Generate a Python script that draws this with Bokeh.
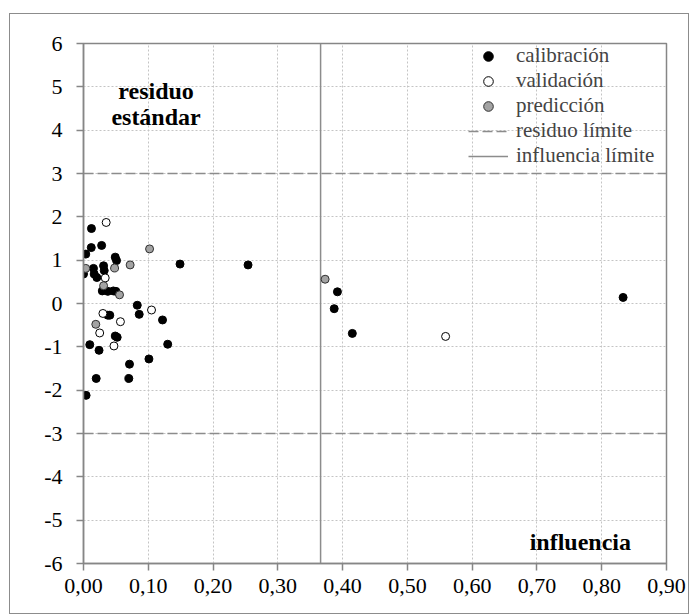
from bokeh.plotting import figure
from bokeh.models import (ColumnDataSource, Label, Legend, LegendItem,
                          FixedTicker, CustomJSTickFormatter)
from bokeh.embed import file_html
from bokeh.resources import INLINE

# Leverage (influencia) and standardized residual (residuo estándar) per set
calib_x = [0.000, 0.0035, 0.004, 0.0097, 0.012, 0.0123, 0.0154, 0.0165, 0.0196,
           0.0206, 0.024, 0.028, 0.029, 0.031, 0.032, 0.0375, 0.0375, 0.0406,
           0.046, 0.050, 0.049, 0.051, 0.049, 0.052, 0.070, 0.071, 0.083, 0.086,
           0.101, 0.122, 0.130, 0.149, 0.254, 0.387, 0.392, 0.415, 0.833]
calib_y = [0.68, 1.14, -2.12, -0.95, 1.29, 1.73, 0.81, 0.68, -1.73,
           0.60, -1.08, 1.34, 0.29, 0.87, 0.76, 0.28, -0.27, -0.27,
           0.29, 0.28, 1.07, 0.99, -0.75, -0.78, -1.73, -1.40, -0.04, -0.25,
           -1.28, -0.38, -0.94, 0.91, 0.89, -0.12, 0.27, -0.69, 0.14]

valid_x = [0.035, 0.0335, 0.030, 0.057, 0.025, 0.047, 0.105, 0.559]
valid_y = [1.87, 0.59, -0.23, -0.42, -0.68, -0.98, -0.15, -0.76]

pred_x = [0.0035, 0.031, 0.048, 0.0556, 0.072, 0.102, 0.019, 0.373]
pred_y = [0.81, 0.41, 0.82, 0.20, 0.89, 1.26, -0.48, 0.56]

residuo_limite = 3.0
influencia_limite = 0.366

x_ticks = [0.0, 0.1, 0.2, 0.3, 0.4, 0.5, 0.6, 0.7, 0.8, 0.9]
y_ticks = [-6, -5, -4, -3, -2, -1, 0, 1, 2, 3, 4, 5, 6]

SERIF = "Liberation Serif"
AXIS_GRAY = "#868686"
LIM_GRAY = "#8c8c8c"

x_lo, x_hi = x_ticks[0], x_ticks[-1]
y_lo, y_hi = y_ticks[0], y_ticks[-1]

p = figure(width=680, height=601, x_range=(x_lo, x_hi), y_range=(y_lo, y_hi),
           output_backend="svg", toolbar_location=None,
           min_border_left=73, min_border_right=24,
           min_border_top=29, min_border_bottom=52)
p.margin = (13, 0, 0, 9)
p.styles = {"border": "1px solid #8c8c8c"}
p.background_fill_color = "white"
p.border_fill_color = "white"
p.outline_line_color = AXIS_GRAY
p.outline_line_width = 1.5

# axes
for ax in (p.xaxis[0], p.yaxis[0]):
    ax.axis_line_color = AXIS_GRAY
    ax.axis_line_width = 1.5
    ax.major_tick_line_color = AXIS_GRAY
    ax.major_tick_line_width = 1.5
    ax.major_tick_in = 0
    ax.major_tick_out = 7
    ax.minor_tick_line_color = None
    ax.major_label_text_font = SERIF
    ax.major_label_text_font_size = "22px"
    ax.major_label_text_color = "black"

p.xaxis.ticker = FixedTicker(ticks=x_ticks)
p.yaxis.ticker = FixedTicker(ticks=y_ticks)
p.xaxis.formatter = CustomJSTickFormatter(code="return tick.toFixed(2).replace('.', ',');")
p.yaxis.formatter = CustomJSTickFormatter(code="return tick.toFixed(0);")
p.xaxis.major_label_standoff = 8
p.yaxis.major_label_standoff = 14

# dotted grid
p.xgrid.ticker = FixedTicker(ticks=x_ticks)
p.ygrid.ticker = FixedTicker(ticks=y_ticks)
for g in (p.xgrid[0], p.ygrid[0]):
    g.grid_line_color = "#c4c4c4"
    g.grid_line_dash = "2 2"
    g.grid_line_width = 1

# limit lines
r_res = p.line(x=[x_lo, x_hi], y=[residuo_limite, residuo_limite],
               line_color=LIM_GRAY, line_width=1.5, line_dash="10 4")
p.line(x=[x_lo, x_hi], y=[-residuo_limite, -residuo_limite],
       line_color=LIM_GRAY, line_width=1.5, line_dash="10 4")
r_inf = p.line(x=[influencia_limite, influencia_limite], y=[y_lo, y_hi],
               line_color=LIM_GRAY, line_width=1.5)

# point series
src_c = ColumnDataSource(dict(x=calib_x, y=calib_y))
src_v = ColumnDataSource(dict(x=valid_x, y=valid_y))
src_p = ColumnDataSource(dict(x=pred_x, y=pred_y))

r_c = p.scatter("x", "y", source=src_c, size=8, fill_color="black",
                line_color="black", line_width=1)
r_v = p.scatter("x", "y", source=src_v, size=8, fill_color="white",
                line_color="black", line_width=1)
r_p = p.scatter("x", "y", source=src_p, size=8, fill_color="#a3a3a3",
                line_color="#303030", line_width=1)

legend = Legend(items=[
    LegendItem(label="calibración", renderers=[r_c]),
    LegendItem(label="validación", renderers=[r_v]),
    LegendItem(label="predicción", renderers=[r_p]),
    LegendItem(label="residuo límite", renderers=[r_res]),
    LegendItem(label="influencia límite", renderers=[r_inf]),
], location="top_right")
legend.background_fill_alpha = 0
legend.border_line_color = None
legend.label_text_font = SERIF
legend.label_text_font_size = "21px"
legend.label_height = 24
legend.glyph_height = 24
legend.glyph_width = 40
legend.label_standoff = 8
legend.label_width = 150
legend.spacing = 0
legend.padding = 8
legend.margin = 0
p.add_layout(legend)

# axis captions inside the plot
label_style = dict(text_font=SERIF, text_font_size="24px", text_font_style="bold",
                   text_color="black", text_align="center", text_baseline="middle")
p.add_layout(Label(x=0.112, y=4.91, text="residuo", **label_style))
p.add_layout(Label(x=0.112, y=4.30, text="estándar", **label_style))
p.add_layout(Label(x=0.767, y=-5.50, text="influencia", **label_style))

open("out.html", "w").write(file_html(p, INLINE))
